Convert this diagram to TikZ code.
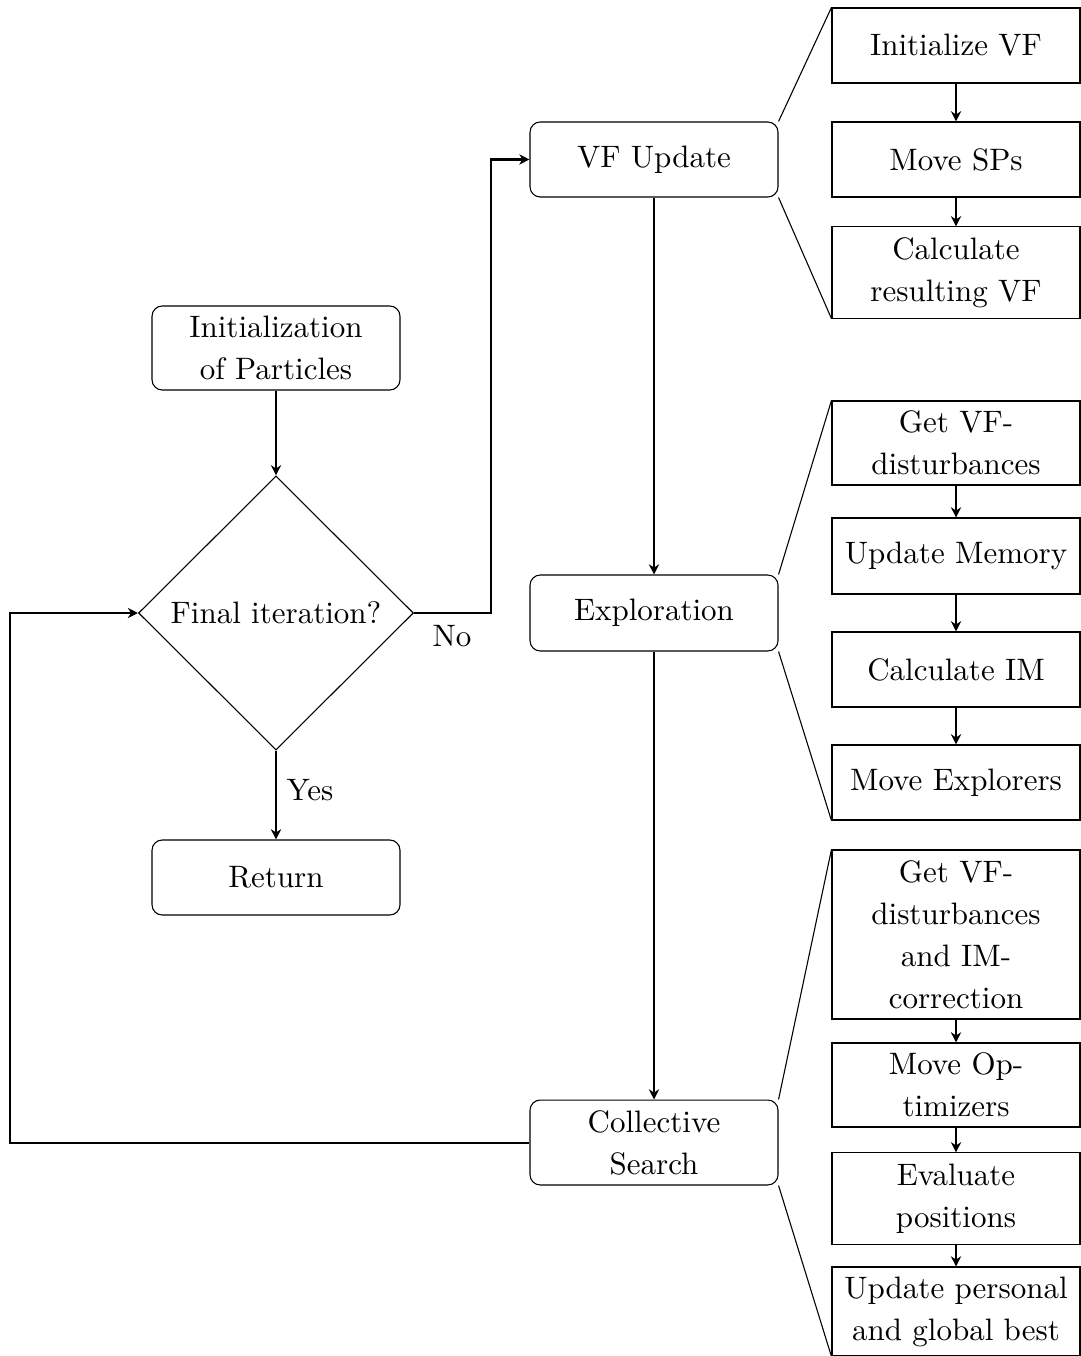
\documentclass[tikz,border=0pt]{standalone}
\usetikzlibrary{shapes.geometric,arrows.meta}
\begin{document}
\begin{tikzpicture}[x=0.3226pt,y=-0.3226pt,
  every node/.style={font=\fontsize{10}{13.55}\selectfont, align=center, inner sep=0pt},
  rbox/.style={draw, line width=0.35pt, rounded corners=3.3pt, minimum width=80pt},
  sbox/.style={draw, line width=0.35pt, minimum width=80pt},
  dia/.style={draw, line width=0.35pt, diamond, minimum width=88.7pt, minimum height=88.4pt},
  arr/.style={line width=0.65pt, -{Stealth[length=3.3pt,width=3.3pt]}},
  fan/.style={line width=0.35pt}]
\useasboundingbox (0,0) rectangle (1080,1356);
% left column
\node[rbox, minimum height=27.1pt] (init) at (276,348) {Initialization\\of Particles};
\node[dia] (dec) at (276,613) {Final iteration?};
\node[rbox, minimum height=24.2pt] (ret) at (276,877.5) {Return};
% middle column
\node[rbox, minimum height=24.2pt] (vf) at (654,159.5) {VF Update};
\node[rbox, minimum height=24.5pt] (ex) at (654,613) {Exploration};
\node[rbox, minimum height=27.4pt] (cs) at (654,1142.5) {Collective\\Search};
% right column group 1
\node[sbox, minimum height=24.2pt] (ivf) at (956,45.5) {Initialize VF};
\node[sbox, minimum height=24.2pt] (msp) at (956,159.5) {Move SPs};
\node[sbox, minimum height=29.4pt] (crv) at (956,272.5) {Calculate\\resulting VF};
% group 2
\node[sbox, minimum height=27.1pt] (gvd) at (956,443) {Get VF-\\disturbances};
\node[sbox, minimum height=24.5pt] (um) at (956,556) {Update Memory};
\node[sbox, minimum height=24.2pt] (cim) at (956,669.5) {Calculate IM};
\node[sbox, minimum height=24.2pt] (mex) at (956,782.5) {Move Explorers};
% group 3
\node[sbox, minimum height=54.5pt] (gvi) at (956,934.5) {Get VF-\\disturbances\\and IM-\\correction};
\node[sbox, minimum height=27.1pt] (mop) at (956,1085) {Move Op-\\timizers};
\node[sbox, minimum height=29.4pt] (evp) at (956,1198.5) {Evaluate\\positions};
\node[sbox, minimum height=28.7pt] (upg) at (956,1311.5) {Update personal\\and global best};
% labels
\node (yes) at (310,790) {Yes};
\node (no) at (452,636) {No};
% main arrows
\draw[arr] (init) -- (dec);
\draw[arr] (dec) -- (ret);
\draw[arr] (dec.east) -- ++(77,0) |- (vf.west);
\draw[arr] (vf) -- (ex);
\draw[arr] (ex) -- (cs);
\draw[arr] (cs.west) -- ++(-519,0) |- (dec.west);
% sub arrows
\draw[arr] (ivf) -- (msp);
\draw[arr] (msp) -- (crv);
\draw[arr] (gvd) -- (um);
\draw[arr] (um) -- (cim);
\draw[arr] (cim) -- (mex);
\draw[arr] (gvi) -- (mop);
\draw[arr] (mop) -- (evp);
\draw[arr] (evp) -- (upg);
% fan lines
\draw[fan] (vf.north east) -- (ivf.north west);
\draw[fan] (vf.south east) -- (crv.south west);
\draw[fan] (ex.north east) -- (gvd.north west);
\draw[fan] (ex.south east) -- (mex.south west);
\draw[fan] (cs.north east) -- (gvi.north west);
\draw[fan] (cs.south east) -- (upg.south west);
\end{tikzpicture}
\end{document}
